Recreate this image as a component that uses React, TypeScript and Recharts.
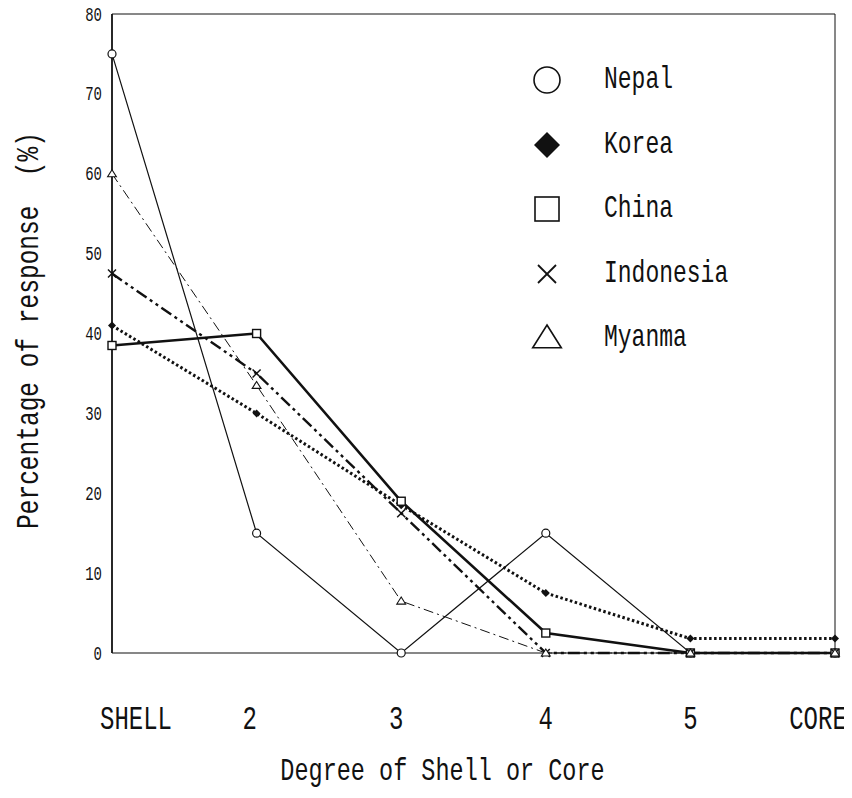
import React from "react";
import {
  LineChart,
  Line,
  XAxis,
  YAxis,
  Legend,
  ReferenceLine,
} from "recharts";

const categories = ["SHELL", "2", "3", "4", "5", "CORE"];
const nepal = [75, 15, 0, 15, 0, 0];
const korea = [41, 30, 18.5, 7.5, 1.8, 1.8];
const china = [38.5, 40, 19, 2.5, 0, 0];
const indonesia = [47.5, 35, 17.5, 0, 0, 0];
const myanma = [60, 33.5, 6.5, 0, 0, 0];
const yTicks = [0, 10, 20, 30, 40, 50, 60, 70, 80];

const data = categories.map((c, i) => ({
  degree: c,
  Nepal: nepal[i],
  Korea: korea[i],
  China: china[i],
  Indonesia: indonesia[i],
  Myanma: myanma[i],
}));

const INK = "#111";
const FONT = "'Liberation Mono', 'DejaVu Sans Mono', monospace";
// small horizontal nudges so the tick labels sit like the original
const TICK_NUDGE = [24, -7, -5, 0, 0, -17];

type Shape = "circle" | "diamond" | "square" | "cross" | "triangle";

const SERIES: {
  key: string;
  shape: Shape;
  width: number;
  dash?: string;
}[] = [
  { key: "Nepal", shape: "circle", width: 1.2 },
  { key: "Korea", shape: "diamond", width: 3, dash: "2.5 2.5" },
  { key: "China", shape: "square", width: 2.6 },
  { key: "Indonesia", shape: "cross", width: 2.4, dash: "12 4 3 4 3 4" },
  { key: "Myanma", shape: "triangle", width: 1, dash: "10 4 2 4" },
];

function Marker({ shape, cx, cy, s }: { shape: Shape; cx: number; cy: number; s: number }) {
  switch (shape) {
    case "circle":
      return <circle cx={cx} cy={cy} r={s} fill="#fff" stroke={INK} strokeWidth={s > 6 ? 1.6 : 1.2} />;
    case "diamond":
      return (
        <polygon
          points={`${cx},${cy - s} ${cx + s},${cy} ${cx},${cy + s} ${cx - s},${cy}`}
          fill={INK}
        />
      );
    case "square":
      return (
        <rect x={cx - s} y={cy - s} width={s * 2} height={s * 2} fill="#fff" stroke={INK} strokeWidth={s > 6 ? 1.6 : 1.4} />
      );
    case "cross":
      return (
        <g stroke={INK} strokeWidth={s > 6 ? 1.8 : 1.5}>
          <line x1={cx - s} y1={cy - s} x2={cx + s} y2={cy + s} />
          <line x1={cx - s} y1={cy + s} x2={cx + s} y2={cy - s} />
        </g>
      );
    case "triangle":
      return (
        <polygon
          points={`${cx},${cy - s} ${cx + s * 1.1},${cy + s * 0.75} ${cx - s * 1.1},${cy + s * 0.75}`}
          fill="#fff"
          stroke={INK}
          strokeWidth={s > 6 ? 1.6 : 1.1}
        />
      );
  }
}

const XTick = ({ x, y, index, payload }: any) => (
  <text
    transform={`translate(${x + TICK_NUDGE[index]},${y + 76}) scale(1,1.35)`}
    textAnchor="middle"
    fontFamily={FONT}
    fontSize={24}
    fill={INK}
  >
    {payload.value}
  </text>
);

const YTick = ({ x, y, payload }: any) => (
  <text
    transform={`translate(${x},${y + 6.5}) scale(1,1.4)`}
    textAnchor="end"
    fontFamily={FONT}
    fontSize={14}
    fill={INK}
  >
    {payload.value}
  </text>
);

const YTitle = ({ viewBox }: any) => {
  const cx = viewBox.x + viewBox.width - 82;
  const cy = viewBox.y + viewBox.height / 2 - 3;
  return (
    <text
      transform={`translate(${cx},${cy}) rotate(-90) scale(1,1.3)`}
      textAnchor="middle"
      dominantBaseline="central"
      fontFamily={FONT}
      fontSize={24.5}
      fill={INK}
      style={{ whiteSpace: "pre" }}
    >
      {"Percentage of response  (%)"}
    </text>
  );
};

const XTitle = ({ viewBox }: any) => {
  const cx = viewBox.x + viewBox.width / 2 - 31;
  const by = viewBox.y + viewBox.height - 3;
  return (
    <text
      transform={`translate(${cx},${by}) scale(1,1.3)`}
      textAnchor="middle"
      fontFamily={FONT}
      fontSize={23.5}
      fill={INK}
    >
      Degree of Shell or Core
    </text>
  );
};

const LegendBox = () => (
  <div style={{ fontFamily: FONT, color: INK }}>
    {SERIES.map((s) => (
      <div key={s.key} style={{ display: "flex", alignItems: "center", height: 64.5 }}>
        <svg width={32} height={32} style={{ marginRight: 41 }}>
          <Marker shape={s.shape} cx={16} cy={16} s={s.shape === "cross" ? 9 : s.shape === "square" ? 12 : 13} />
        </svg>
        <span style={{ fontSize: 23, display: "inline-block", transform: "scaleY(1.4)" }}>{s.key}</span>
      </div>
    ))}
  </div>
);

export default function App() {
  return (
    <div style={{ margin: -8 }}>
      <LineChart
        width={852}
        height={798}
        data={data}
        margin={{ top: 14, right: 17, left: 52, bottom: 15 }}
      >
        <XAxis
          dataKey="degree"
          height={130}
          tickLine={false}
          tickSize={0}
          tickMargin={0}
          tick={<XTick />}
          interval={0}
          axisLine={{ stroke: INK, strokeWidth: 1.2 }}
          label={<XTitle />}
        />
        <YAxis
          width={60}
          domain={[0, 80]}
          ticks={yTicks}
          interval={0}
          tickLine={false}
          tickSize={0}
          tickMargin={10}
          tick={<YTick />}
          axisLine={{ stroke: INK, strokeWidth: 1.8 }}
          label={<YTitle />}
        />
        <ReferenceLine y={80} stroke={INK} strokeWidth={1} />
        <ReferenceLine x="CORE" stroke={INK} strokeWidth={1} />
        <Legend
          layout="horizontal"
          verticalAlign="middle"
          align="center"
          content={<LegendBox />}
          wrapperStyle={{ left: 531, top: 48, width: 260, height: 330 }}
        />
        {SERIES.map((s) => (
          <Line
            key={s.key}
            type="linear"
            dataKey={s.key}
            stroke={INK}
            strokeWidth={s.width}
            strokeDasharray={s.dash}
            isAnimationActive={false}
            dot={(p: any) => (
              <Marker key={`${s.key}-${p.index}`} shape={s.shape} cx={p.cx} cy={p.cy} s={4} />
            )}
            activeDot={false}
          />
        ))}
      </LineChart>
    </div>
  );
}
